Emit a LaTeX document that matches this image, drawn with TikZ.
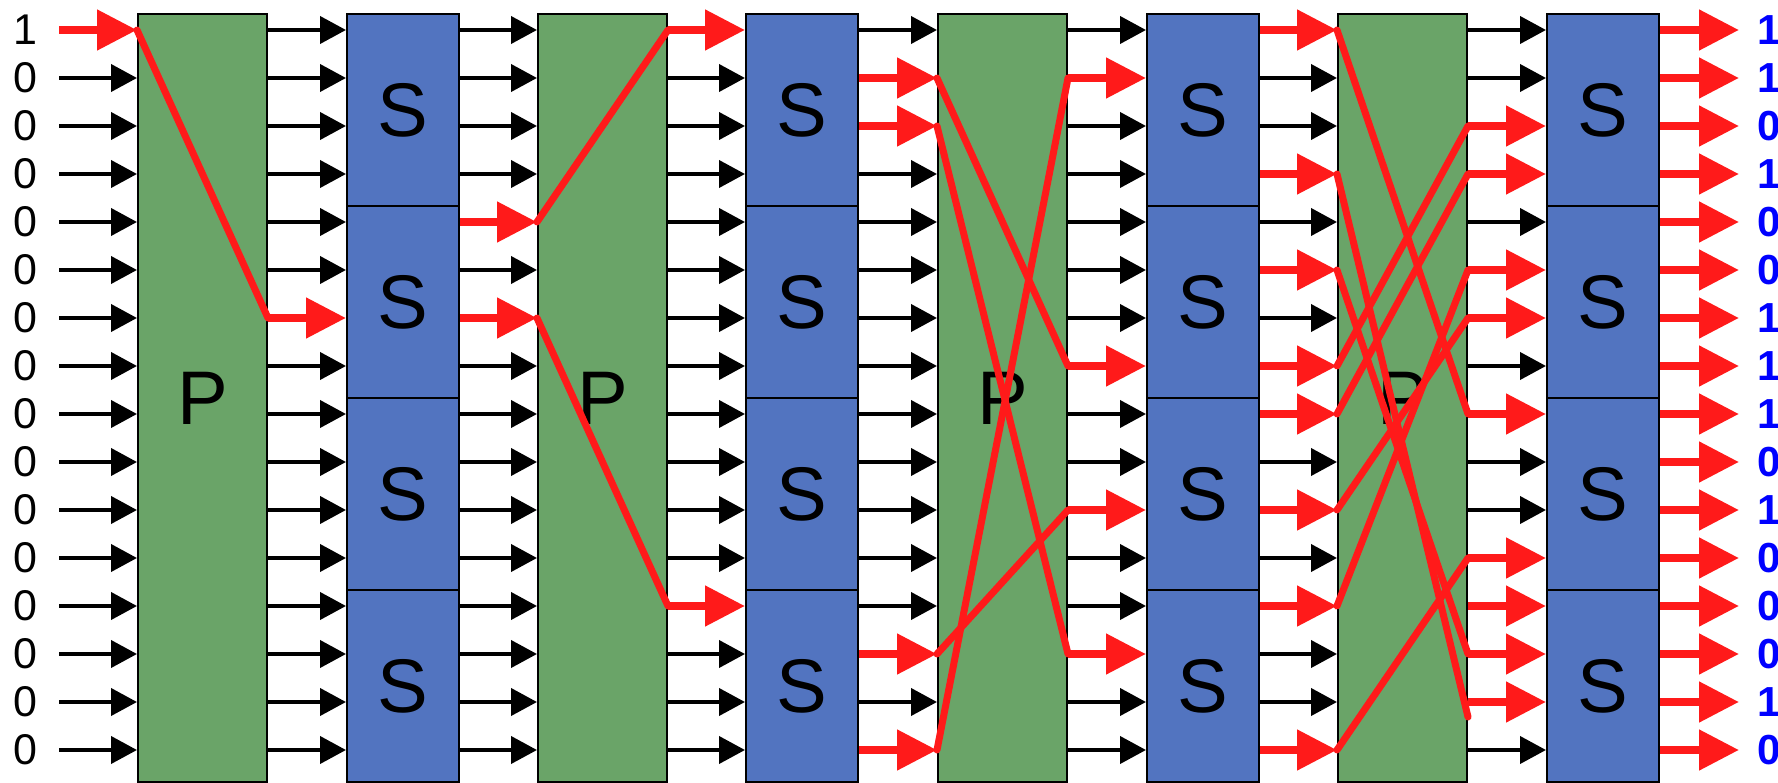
\documentclass[tikz,border=0pt]{standalone}
\usepackage{fontspec}
\setmainfont{Liberation Sans}
\usetikzlibrary{arrows.meta}
\definecolor{pgreen}{RGB}{106,164,104}
\definecolor{sblue}{RGB}{82,116,192}
\definecolor{rred}{RGB}{255,26,26}
\definecolor{oblue}{RGB}{0,0,255}
\begin{document}
\begin{tikzpicture}[x=1pt,y=-1pt,
  pbox/.style={draw=black,line width=2pt,fill=pgreen,minimum width=129pt,minimum height=768pt,inner sep=0pt,font=\fontsize{76}{76}\selectfont},
  sbox/.style={draw=black,line width=2pt,fill=sblue,minimum width=112pt,minimum height=192pt,inner sep=0pt,font=\fontsize{76}{76}\selectfont},
  barrow/.style={draw=black,line width=4pt,-{Triangle[length=26pt,width=27pt]}},
  rarrow/.style={draw=rred,line width=8pt,-{Triangle[length=40pt,width=39pt]}},
  rline/.style={draw=rred,line width=7pt,line cap=round,line join=round},
  inlabel/.style={font=\fontsize{43}{43}\selectfont,inner sep=0pt},
  outlabel/.style={font=\fontsize{42}{42}\selectfont\bfseries,text=oblue,inner sep=0pt,anchor=west}]

\useasboundingbox[fill=white] (0,0) rectangle (1778,783);

% row coordinates
\foreach \i in {1,...,16} \coordinate (r\i) at (0,{30+48*(\i-1)});
\coordinate (start) at (59,0);
\coordinate (finish) at (1739,0);
\coordinate (odd) at (0,717);

% P boxes
\node[pbox] (p1) at (202.5,398) {P};
\node[pbox] (p2) at (602.5,398) {P};
\node[pbox] (p3) at (1002.5,398) {P};
\node[pbox] (p4) at (1402.5,398) {P};

% S boxes
\foreach \c/\x in {1/403,2/802,3/1203,4/1603}
  \foreach \k/\y in {1/110,2/302,3/494,4/686}
    \node[sbox] (s\c\k) at (\x,\y) {S};

% red paths inside the permutation boxes
\draw[rline] (p1.west |- r1) -- (p1.east |- r7);
\draw[rline] (p2.west |- r5) -- (p2.east |- r1);
\draw[rline] (p2.west |- r7) -- (p2.east |- r13);
\draw[rline] (p3.west |- r2) -- (p3.east |- r8);
\draw[rline] (p3.west |- r3) -- (p3.east |- r14);
\draw[rline] (p3.west |- r16) -- (p3.east |- r2);
\draw[rline] (p3.west |- r14) -- (p3.east |- r11);
\draw[rline] (p4.west |- r1) -- (p4.east |- r9);
\draw[rline] (p4.west |- r4) -- (p4.east |- odd);
\draw[rline] (p4.west |- r6) -- (p4.east |- r14);
\draw[rline] (p4.west |- r8) -- (p4.east |- r3);
\draw[rline] (p4.west |- r9) -- (p4.east |- r4);
\draw[rline] (p4.west |- r11) -- (p4.east |- r7);
\draw[rline] (p4.west |- r13) -- (p4.east |- r6);
\draw[rline] (p4.west |- r16) -- (p4.east |- r12);

% input arrows
\foreach \r in {2,...,16} \draw[barrow] (start |- r\r) -- (p1.west |- r\r);
\draw[rarrow] (start |- r1) -- (p1.west |- r1);

% P1 -> S1
\foreach \r in {1,2,3,4,5,6,8,9,10,11,12,13,14,15,16}
  {\pgfmathtruncatemacro\k{(\r-1)/4+1}\draw[barrow] (p1.east |- r\r) -- (s1\k.west |- r\r);}
\foreach \r in {7}
  {\pgfmathtruncatemacro\k{(\r-1)/4+1}\draw[rarrow] (p1.east |- r\r) -- (s1\k.west |- r\r);}

% S1 -> P2
\foreach \r in {1,2,3,4,6,8,9,10,11,12,13,14,15,16}
  {\pgfmathtruncatemacro\k{(\r-1)/4+1}\draw[barrow] (s1\k.east |- r\r) -- (p2.west |- r\r);}
\foreach \r in {5,7}
  {\pgfmathtruncatemacro\k{(\r-1)/4+1}\draw[rarrow] (s1\k.east |- r\r) -- (p2.west |- r\r);}

% P2 -> S2
\foreach \r in {2,3,4,5,6,7,8,9,10,11,12,14,15,16}
  {\pgfmathtruncatemacro\k{(\r-1)/4+1}\draw[barrow] (p2.east |- r\r) -- (s2\k.west |- r\r);}
\foreach \r in {1,13}
  {\pgfmathtruncatemacro\k{(\r-1)/4+1}\draw[rarrow] (p2.east |- r\r) -- (s2\k.west |- r\r);}

% S2 -> P3
\foreach \r in {1,4,5,6,7,8,9,10,11,12,13,15}
  {\pgfmathtruncatemacro\k{(\r-1)/4+1}\draw[barrow] (s2\k.east |- r\r) -- (p3.west |- r\r);}
\foreach \r in {2,3,14,16}
  {\pgfmathtruncatemacro\k{(\r-1)/4+1}\draw[rarrow] (s2\k.east |- r\r) -- (p3.west |- r\r);}

% P3 -> S3
\foreach \r in {1,3,4,5,6,7,9,10,12,13,15,16}
  {\pgfmathtruncatemacro\k{(\r-1)/4+1}\draw[barrow] (p3.east |- r\r) -- (s3\k.west |- r\r);}
\foreach \r in {2,8,11,14}
  {\pgfmathtruncatemacro\k{(\r-1)/4+1}\draw[rarrow] (p3.east |- r\r) -- (s3\k.west |- r\r);}

% S3 -> P4
\foreach \r in {2,3,5,7,10,12,14,15}
  {\pgfmathtruncatemacro\k{(\r-1)/4+1}\draw[barrow] (s3\k.east |- r\r) -- (p4.west |- r\r);}
\foreach \r in {1,4,6,8,9,11,13,16}
  {\pgfmathtruncatemacro\k{(\r-1)/4+1}\draw[rarrow] (s3\k.east |- r\r) -- (p4.west |- r\r);}

% P4 -> S4
\foreach \r in {1,2,5,8,10,11,16}
  {\pgfmathtruncatemacro\k{(\r-1)/4+1}\draw[barrow] (p4.east |- r\r) -- (s4\k.west |- r\r);}
\foreach \r in {3,4,6,7,9,12,13,14,15}
  {\pgfmathtruncatemacro\k{(\r-1)/4+1}\draw[rarrow] (p4.east |- r\r) -- (s4\k.west |- r\r);}

% output arrows
\foreach \r in {1,...,16}
  {\pgfmathtruncatemacro\k{(\r-1)/4+1}\draw[rarrow] (s4\k.east |- r\r) -- (finish |- r\r);}

% input labels
\node[inlabel] (l1) at (25,30) {1};
\foreach \i in {2,...,16} \node[inlabel] (l\i) at (25,{30+48*(\i-1)}) {0};

% output labels
\foreach \v [count=\i] in {1,1,0,1,0,0,1,1,1,0,1,0,0,0,1,0}
  \node[outlabel] (o\i) at (1757,{30+48*(\i-1)}) {\v};
\end{tikzpicture}
\end{document}
